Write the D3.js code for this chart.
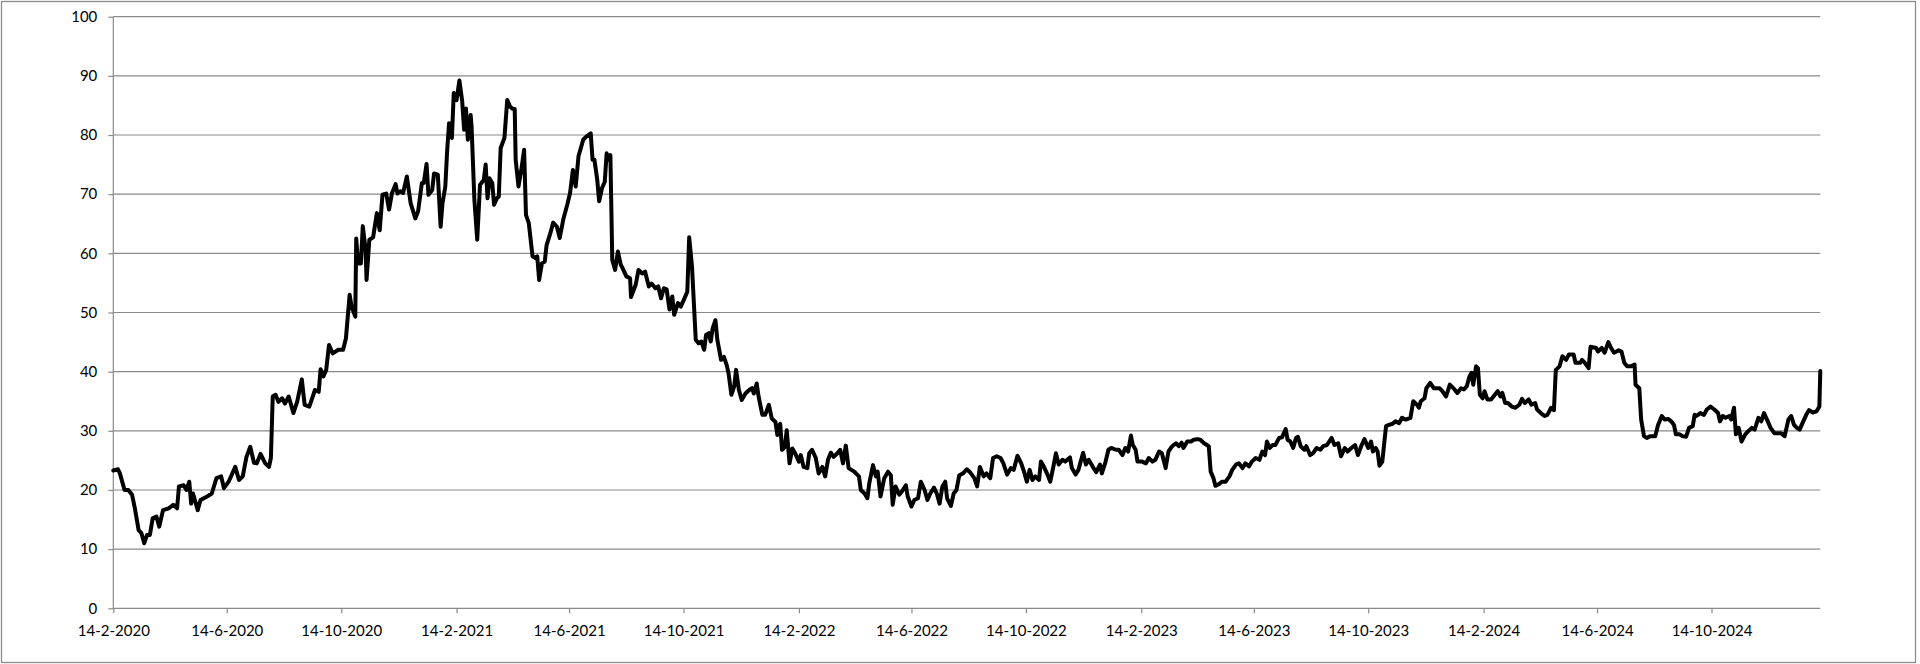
<!DOCTYPE html>
<html>
<head>
<meta charset="utf-8">
<script src="https://cdn.jsdelivr.net/npm/d3@7/dist/d3.min.js"></script>
<style>
  html, body { margin: 0; padding: 0; background: #fff; }
  svg { display: block; }
  .tick text { font-family: Lato, "Open Sans", sans-serif; font-size: 15px; fill: #000; }
</style>
</head>
<body>
<svg id="chart" width="1920" height="664"></svg>
<script>
// ---- DATA ----
const startDate = "2020-02-14";
const endDayOffset = 1820;
// [days since startDate, value]
const series = [
[0,23.3],[5,23.5],[7,22.8],[12,20.0],[16,20.0],[20,19.2],[23,16.9],[27,13.2],[30,12.7],[33,11.0],[36,12.4],[39,12.4],[42,15.2],[46,15.5],[49,13.8],[53,16.6],[59,16.9],[64,17.5],[68,16.9],[70,20.6],[75,20.8],[78,20.0],[81,21.4],[83,17.7],[85,19.4],[90,16.6],[93,18.3],[100,18.9],[105,19.4],[110,22.0],[115,22.3],[118,20.3],[123,21.4],[130,23.9],[134,21.7],[138,22.3],[142,25.6],[146,27.3],[150,24.6],[153,24.5],[157,26.1],[162,24.5],[166,23.9],[168,25.4],[170,35.8],[173,36.1],[176,34.9],[180,35.5],[183,34.6],[187,35.8],[192,33.0],[196,34.9],[201,38.7],[204,34.4],[209,34.1],[212,35.5],[215,36.9],[219,36.6],[221,40.4],[224,39.2],[227,40.3],[230,44.5],[234,43.1],[240,43.7],[245,43.7],[248,45.6],[252,53.0],[254,51.0],[258,49.3],[259,62.5],[261,58.3],[264,58.3],[266,64.6],[269,60.6],[270,55.5],[273,62.3],[277,62.7],[281,66.8],[284,63.9],[287,69.9],[291,70.1],[294,67.4],[297,70.1],[301,71.7],[303,70.1],
[306,70.5],[309,70.2],[313,73.0],[317,68.5],[322,65.9],[325,67.1],[329,71.9],[331,71.9],[334,75.1],[336,69.9],[340,70.7],[342,73.5],[346,73.3],[349,64.5],[351,68.5],[354,71.3],[356,77.5],[358,82.0],[361,79.5],[363,87.1],[366,85.9],[369,89.2],[372,85.7],[374,80.9],[376,84.5],[378,79.2],[381,83.4],[382,81.4],[385,69.0],[388,62.3],[391,71.6],[395,72.4],[397,75.0],[399,69.3],[401,72.7],[404,71.9],[406,68.2],[409,69.3],[411,69.6],[413,77.8],[417,79.5],[420,85.9],[423,84.8],[426,84.4],[428,84.4],[429,75.8],[432,71.3],[435,74.1],[438,77.5],[440,66.5],[443,65.1],[447,59.5],[450,59.2],[452,59.5],[454,55.5],[457,58.3],[460,58.6],[462,61.4],[466,63.4],[469,65.2],[473,64.5],[476,62.6],[480,65.9],[484,68.2],[487,70.2],[490,74.1],[493,71.3],[496,76.4],[501,79.2],[504,79.7],[509,80.3],[511,75.8],[513,75.8],[516,72.4],[518,68.8],[521,71.0],[524,72.1],[526,76.9],[528,75.8],[530,76.6],[532,58.9],[535,57.2],[538,60.3],[541,58.1],[543,57.5],[547,56.1],[551,55.8],[552,52.6],[557,54.7],[560,57.2],[564,56.6],[567,56.9],[571,54.4],[574,54.9],[578,54.1],[581,54.4],[584,52.4],[587,54.1],[590,53.9],[593,50.5],[596,52.7],[598,49.6],[602,51.6],[605,51.0],[609,52.4],[612,53.5],[614,62.7],[617,57.8],[621,45.4],[624,44.8],
[627,45.1],[630,43.7],[632,46.2],[635,46.5],[637,45.1],[639,47.3],[642,48.7],[644,45.4],[648,42.0],[651,42.5],[654,41.1],[656,39.7],[659,36.1],[662,37.5],[664,40.3],[667,36.9],[670,35.2],[674,36.3],[678,36.9],[681,37.2],[683,36.3],[686,38.0],[688,35.8],[692,32.7],[695,32.7],[699,34.4],[702,32.1],[706,31.5],[708,29.3],[711,31.2],[713,26.8],[716,27.3],[718,30.1],[721,24.5],[724,27.0],[727,26.2],[731,24.8],[733,25.9],[736,23.9],[740,23.7],[742,26.2],[745,26.8],[749,25.4],[752,22.8],[756,23.9],[759,22.3],[762,25.1],[765,26.3],[768,25.6],[772,26.2],[775,26.8],[778,24.5],[781,27.5],[784,23.7],[790,23.1],[795,22.3],[797,20.0],[801,19.4],[804,18.6],[806,21.1],[810,24.2],[813,22.3],[815,23.1],[818,18.9],[822,22.0],[826,23.1],[829,22.5],[831,17.5],[834,20.6],[838,19.2],[841,19.8],[845,20.8],[847,18.9],[851,17.2],[854,18.3],[858,18.6],[861,21.4],[865,20.0],[868,18.3],[871,19.4],[875,20.4],[878,19.4],[881,17.7],[884,20.6],[887,21.4],[889,18.6],[893,17.3],[896,19.4],[899,20.0],[902,22.5],[906,22.8],[910,23.5],[914,22.9],[918,22.0],[921,20.6],[924,23.9],[928,22.3],[931,22.8],
[935,22.0],[938,25.4],[942,25.7],[946,25.4],[949,24.5],[953,22.6],[957,23.7],[960,23.4],[964,25.8],[968,24.5],[971,23.1],[974,21.4],[977,23.4],[980,21.7],[983,22.3],[987,21.7],[989,24.8],[992,24.0],[996,22.6],[999,21.4],[1003,24.5],[1005,26.2],[1008,24.3],[1012,25.1],[1015,24.8],[1020,25.5],[1022,23.7],[1026,22.6],[1029,23.4],[1034,26.3],[1037,24.3],[1040,25.1],[1044,24.0],[1048,23.0],[1052,24.3],[1054,22.8],[1058,24.8],[1061,26.8],[1064,27.1],[1069,26.8],[1072,26.8],[1076,25.9],[1079,27.1],[1082,26.5],[1085,29.2],[1087,27.6],[1090,26.8],[1092,24.8],[1097,24.8],[1101,24.5],[1104,25.4],[1108,24.8],[1111,25.1],[1115,26.5],[1118,26.2],[1122,23.7],[1125,26.5],[1129,27.4],[1133,27.9],[1136,27.4],[1139,28.0],[1141,27.1],[1145,28.2],[1149,28.2],[1152,28.5],[1156,28.6],[1159,28.5],[1163,27.9],[1166,27.6],[1168,27.4],[1170,23.1],[1173,22.0],[1175,20.7],[1179,21.0],[1182,21.4],[1186,21.4],[1190,22.3],[1193,23.4],[1197,24.3],[1200,24.5],[1204,23.7],[1207,24.5],[1211,24.0],[1214,24.8],[1218,25.4],[1222,25.1],[1225,26.5],[1228,25.9],[1230,28.2],[1233,27.1],[1236,27.6],[1239,27.6],[1243,28.8],[1246,28.9],[1250,30.3],[1252,28.5],[1255,28.2],[1258,27.1],[1261,28.8],[1263,29.0],[1266,27.4],[1270,26.8],[1272,27.4],[1276,25.9],[1279,26.2],[1283,27.1],[1287,26.8],[1290,27.4],[1294,27.6],[1299,28.8],[1302,27.6],[1306,27.9],[1309,25.7],[1313,27.1],[1316,26.5],[1320,27.1],[1324,27.6],[1327,25.9],[1331,27.6],[1334,28.6],[1338,27.1],[1341,28.2],[1343,26.5],[1346,27.1],[1348,26.5],[1350,24.1],[1353,24.8],
[1357,30.8],[1360,31.0],[1364,31.2],[1367,31.6],[1371,31.3],[1374,32.2],[1378,31.9],[1383,32.2],[1386,35.0],[1390,34.4],[1392,33.9],[1394,35.0],[1398,35.5],[1400,37.2],[1404,38.1],[1408,37.2],[1414,37.2],[1417,36.7],[1421,35.8],[1425,37.8],[1430,37.0],[1433,36.4],[1437,37.2],[1440,37.0],[1443,37.5],[1446,39.2],[1448,39.8],[1450,37.8],[1453,40.9],[1455,40.6],[1457,36.1],[1460,35.5],[1462,36.7],[1465,35.3],[1469,35.3],[1473,36.1],[1476,36.7],[1479,35.8],[1481,36.4],[1484,34.7],[1487,34.7],[1491,34.1],[1495,33.9],[1499,34.4],[1502,35.4],[1505,34.7],[1509,35.3],[1512,34.4],[1516,34.7],[1518,33.6],[1522,33.0],[1526,32.5],[1529,32.7],[1533,33.9],[1536,33.5],[1538,40.3],[1542,40.9],[1545,42.6],[1549,42.0],[1552,42.9],[1557,42.9],[1559,41.5],[1564,41.5],[1566,42.0],[1569,41.5],[1573,40.6],[1575,44.2],[1581,44.0],[1583,43.4],[1587,44.0],[1590,43.2],[1594,45.0],[1597,44.0],[1600,43.2],[1605,43.6],[1608,43.4],[1611,41.5],[1614,40.9],[1618,40.9],[1622,41.2],[1623,37.8],[1627,37.2],[1629,31.9],[1632,29.1],[1635,28.8],[1639,29.1],[1644,29.1],[1647,31.0],[1651,32.5],[1654,31.9],[1658,32.0],[1661,31.6],[1664,31.0],[1666,29.4],[1670,29.4],[1673,29.1],[1677,29.0],[1680,30.5],[1684,30.8],[1686,32.7],[1688,32.5],[1692,33.0],[1696,32.7],[1699,33.6],[1703,34.1],[1707,33.6],[1711,33.0],[1713,31.6],[1716,32.5],[1719,32.2],[1723,32.5],[1725,31.9],[1728,33.9],[1730,29.4],[1733,30.5],[1736,28.2],[1740,29.4],[1743,29.9],[1747,30.5],[1750,30.2],[1754,32.2],[1757,31.6],[1760,33.0],[1764,31.6],[1767,30.5],[1771,29.6],[1775,29.6],[1778,29.6],[1782,29.1],[1786,31.9],[1789,32.5],[1792,31.0],[1795,30.5],[1798,30.2],[1801,31.3],[1805,32.7],[1808,33.5],[1812,33.1],[1816,33.3],[1819,34.1],[1820,40.1]
];
const xTickLabels = ["14-2-2020","14-6-2020","14-10-2020","14-2-2021","14-6-2021","14-10-2021","14-2-2022","14-6-2022","14-10-2022","14-2-2023","14-6-2023","14-10-2023","14-2-2024","14-6-2024","14-10-2024"];
const yTicks = [0,10,20,30,40,50,60,70,80,90,100];

// ---- CHART ----
const svg = d3.select("#chart");
const margin = { left: 113.3, right: 1920 - 1820.3, top: 16.7, bottom: 664 - 608.3 };
const W = 1920, H = 664;

const parseISO = d3.timeParse("%Y-%m-%d");
const parseTick = d3.timeParse("%d-%m-%Y");
const fmtTick = d => `${d.getDate()}-${d.getMonth() + 1}-${d.getFullYear()}`;
const t0 = parseISO(startDate);
const data = series.map(([d, v]) => ({ date: d3.timeDay.offset(t0, d), value: v }));

const x = d3.scaleTime()
  .domain([t0, d3.timeDay.offset(t0, endDayOffset)])
  .range([margin.left, W - margin.right]);
const y = d3.scaleLinear().domain([0, 100]).range([H - margin.bottom, margin.top]);

const gridColor = "#8a8a8a";

// outer border
svg.append("rect")
  .attr("x", 1.5).attr("y", 1.5).attr("width", 1914).attr("height", 661)
  .attr("fill", "#fff").attr("stroke", "#8c8c8c").attr("stroke-width", 1.3);

// gridlines
svg.append("g")
  .selectAll("line")
  .data(yTicks.filter(v => v > 0))
  .join("line")
  .attr("x1", x.range()[0]).attr("x2", x.range()[1])
  .attr("y1", d => y(d)).attr("y2", d => y(d))
  .attr("stroke", gridColor).attr("stroke-width", 1.2);

// y axis
const yAxis = svg.append("g")
  .attr("transform", `translate(${margin.left},0)`)
  .call(d3.axisLeft(y).tickValues(yTicks).tickSize(5).tickPadding(11).tickFormat(d3.format("d")));
yAxis.selectAll("path, line").attr("stroke", gridColor).attr("stroke-width", 1.2);

// x axis
const xAxis = svg.append("g")
  .attr("transform", `translate(0,${y(0)})`)
  .call(d3.axisBottom(x).tickValues(xTickLabels.map(parseTick)).tickSize(5).tickPadding(12).tickFormat(fmtTick));
xAxis.selectAll("path, line").attr("stroke", gridColor).attr("stroke-width", 1.2);
xAxis.select(".domain").attr("d", `M${x.range()[0]},0H${x.range()[1]}`);
yAxis.select(".domain").attr("d", `M0,${y(0)}V${y(100)}`);

// line
svg.append("path")
  .datum(data)
  .attr("fill", "none")
  .attr("stroke", "#000")
  .attr("stroke-width", 4)
  .attr("stroke-linejoin", "round")
  .attr("stroke-linecap", "round")
  .attr("d", d3.line().x(d => x(d.date)).y(d => y(d.value)));
</script>
</body>
</html>
